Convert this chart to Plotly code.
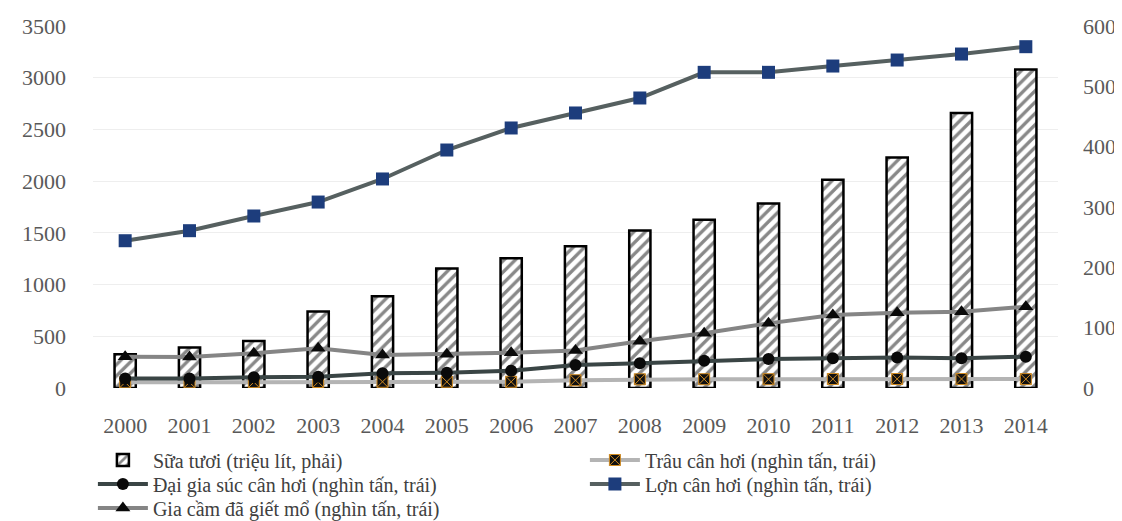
import plotly.graph_objects as go

years = [str(y) for y in range(2000, 2015)]
sua_tuoi = [56, 67, 78, 127, 152, 198, 215, 235, 261, 279, 306, 345, 382, 456, 528]
trau = [55, 55, 57, 58, 60, 60, 60, 75, 84, 85, 85, 87, 87, 87, 86]
dai_gia_suc = [93, 93, 103, 109, 142, 148, 167, 222, 239, 264, 280, 287, 295, 287, 303]
lon = [1424, 1521, 1663, 1798, 2021, 2301, 2514, 2659, 2804, 3052, 3052, 3113, 3171, 3229, 3300]
gia_cam = [303, 300, 335, 384, 319, 326, 341, 363, 452, 529, 625, 706, 728, 738, 786]

left_ticks = [0, 500, 1000, 1500, 2000, 2500, 3000, 3500]
right_ticks = [0, 100, 200, 300, 400, 500, 600]

FONT = "Liberation Serif, DejaVu Serif, serif"
TICK = dict(family=FONT, size=22, color="#595959")
LEG = dict(family=FONT, size=20, color="#404040")

fig = go.Figure()

fig.add_trace(go.Bar(
    x=years, y=sua_tuoi, name="Sữa tươi (triệu lít, phải)",
    yaxis="y", width=0.33, legend="legend",
    marker=dict(color="white", line=dict(color="black", width=2.5),
                pattern=dict(shape="/", fgcolor="#111111", bgcolor="white",
                             size=8, solidity=0.42)),
))
fig.add_trace(go.Scatter(
    x=years, y=trau, name="Trâu cân hơi (nghìn tấn, trái)", yaxis="y2", legend="legend",
    mode="lines+markers", line=dict(color="#b4b4b4", width=4),
    marker=dict(symbol="square-x", size=11, color="#111111",
                line=dict(color="#d08a20", width=1)),
))
fig.add_trace(go.Scatter(
    x=years, y=dai_gia_suc, name="Đại gia súc cân hơi (nghìn tấn, trái)", yaxis="y2",
    legend="legend2",
    mode="lines+markers", line=dict(color="#3a4545", width=4),
    marker=dict(symbol="circle", size=12, color="#0a0a0a"),
))
fig.add_trace(go.Scatter(
    x=years, y=lon, name="Lợn cân hơi (nghìn tấn, trái)", yaxis="y2", legend="legend2",
    mode="lines+markers", line=dict(color="#566060", width=4),
    marker=dict(symbol="square", size=13, color="#1d3d7c"),
))
fig.add_trace(go.Scatter(
    x=years, y=gia_cam, name="Gia cầm đã giết mổ (nghìn tấn, trái)", yaxis="y2",
    legend="legend3",
    mode="lines+markers", line=dict(color="#858585", width=4),
    marker=dict(symbol="triangle-up", size=13, color="#0a0a0a"),
))

def leg(y):
    return dict(orientation="h", x=-0.0001, xanchor="left", y=y, yanchor="middle",
                entrywidth=427, entrywidthmode="pixels", itemwidth=50,
                tracegroupgap=0, font=LEG, bgcolor="rgba(0,0,0,0)")

fig.update_layout(
    width=1114, height=513,
    margin=dict(l=85, r=64, t=18, b=133, autoexpand=False),
    paper_bgcolor="white", plot_bgcolor="white",
    font=dict(family=FONT, size=18, color="#595959"),
    xaxis=dict(type="category", range=[-0.5, 14.5], automargin=False,
               showgrid=False, showline=False, zeroline=False,
               ticks="", ticklabelstandoff=22, tickfont=TICK),
    yaxis=dict(side="right", range=[0, 600], tickvals=right_ticks, automargin=False,
               showgrid=False, zeroline=False, showline=False,
               ticklabelstandoff=24, tickfont=TICK),
    yaxis2=dict(side="left", overlaying="y", range=[0, 3500], tickvals=left_ticks,
                automargin=False,
                showgrid=True, gridcolor="#eeeeee", gridwidth=1,
                zeroline=False, showline=False, ticklabelstandoff=26, tickfont=TICK),
    showlegend=True,
    legend=leg(-0.1989),
    legend2=leg(-0.2652),
    legend3=leg(-0.3315),
)

fig.write_html("out.html")
